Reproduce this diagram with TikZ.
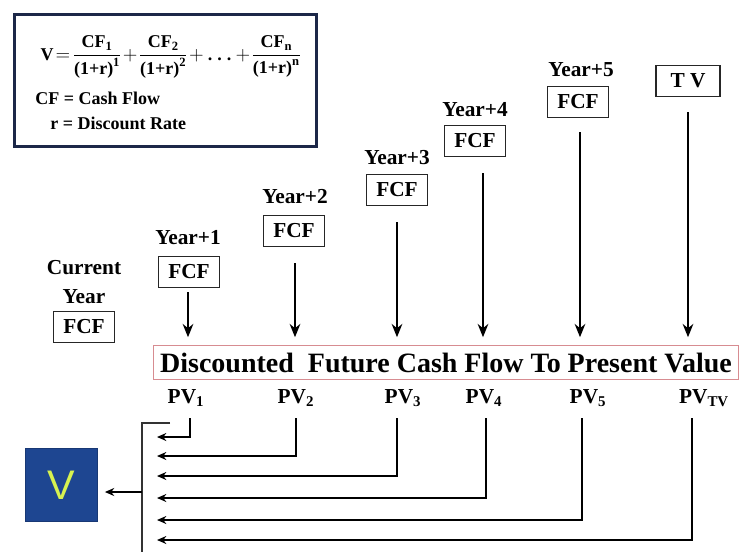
\documentclass[tikz,border=0pt]{standalone}
\usepackage{amsmath}
\usepackage{fontspec}
\setmainfont{Liberation Serif}[BoldFont={Liberation Serif Bold}]
\newfontfamily\vfont{Liberation Sans}
\usetikzlibrary{arrows.meta}
\definecolor{framenavy}{RGB}{28,40,72}
\definecolor{bannerpink}{RGB}{215,140,145}
\definecolor{vblue}{RGB}{30,70,145}
\definecolor{vyellow}{RGB}{215,242,80}
\begin{document}
\begin{tikzpicture}[x=0.75pt,y=-0.75pt,
  lbl/.style={font=\bfseries\fontsize{16}{22}\selectfont, inner sep=0pt, align=center},
  fcfbox/.style={draw=black!85, line width=1.2pt, font=\bfseries\fontsize{16}{18}\selectfont, minimum width=46pt, minimum height=23.5pt, inner sep=0pt},
  downarrow/.style={-{Stealth[length=10pt,width=8pt]}, line width=1.5pt},
  pvlink/.style={-{Stealth[length=7pt,width=6pt]}, line width=1.4pt},
  pvlbl/.style={font=\bfseries\fontsize{16}{18}\selectfont, inner sep=0pt},
  small/.style={font=\bfseries\fontsize{13.5}{15}\selectfont, inner sep=0pt}
]
\useasboundingbox (0,0) rectangle (744,551);

% formula box
\node (fbox) [draw=framenavy, line width=2.5pt, minimum width=226.5pt, minimum height=99pt, anchor=north west, inner sep=0pt] at (13,13) {};
\node (formula) [font=\fontsize{13.5}{15}\selectfont, inner sep=0pt] at (171,57)
 {$\textbf{V}\!=\!\dfrac{\textbf{CF}_{\textbf{1}}}{\textbf{(1+r)}^{\textbf{1}}}\!+\!\dfrac{\textbf{CF}_{\textbf{2}}}{\textbf{(1+r)}^{\textbf{2}}}\!+\textbf{.\;.\;.}+\!\dfrac{\textbf{CF}_{\textbf{n}}}{\textbf{(1+r)}^{\textbf{n}}}$};
\node (cfdef) [small, anchor=west] at (35,98) {CF = Cash Flow};
\node (rdef) [small, anchor=west] at (50,123) {r = Discount Rate};

% year labels and boxes
\node (cy) [lbl] at (84,282) {Current\\Year};
\node (f0) [fcfbox] at (84,327) {FCF};
\node (y1) [lbl] at (188,238) {Year+1};
\node (f1) [fcfbox] at (189,272) {FCF};
\node (y2) [lbl] at (295,197) {Year+2};
\node (f2) [fcfbox] at (294,231) {FCF};
\node (y3) [lbl] at (397,158) {Year+3};
\node (f3) [fcfbox] at (397,190) {FCF};
\node (y4) [lbl] at (475,110) {Year+4};
\node (f4) [fcfbox] at (475,141) {FCF};
\node (y5) [lbl] at (581,70) {Year+5};
\node (f5) [fcfbox] at (578,102) {FCF};
\node (tv) [fcfbox, minimum width=48pt] at (688,81) {T V};

% banner
\node (banner) [draw=bannerpink, line width=0.9pt, minimum width=439pt, minimum height=26pt, inner sep=0pt, font=\bfseries\fontsize{21}{24}\selectfont] at (446,362.5) {Discounted\ \ Future Cash Flow To Present Value};

% arrows into banner
\coordinate (a1) at (188,292);
\coordinate (a2) at (295,263);
\coordinate (a3) at (397,222);
\coordinate (a4) at (483,173);
\coordinate (a5) at (580,132);
\coordinate (a6) at (688,112);
\foreach \i in {1,...,6} {
  \draw[downarrow, shorten >=5.5pt] (a\i) -- (a\i |- banner.north);
}

% PV labels
\node (pv1) [pvlbl] at (186,398) {PV\textsubscript{1}};
\node (pv2) [pvlbl] at (296,398) {PV\textsubscript{2}};
\node (pv3) [pvlbl] at (403,398) {PV\textsubscript{3}};
\node (pv4) [pvlbl] at (484,398) {PV\textsubscript{4}};
\node (pv5) [pvlbl] at (588,398) {PV\textsubscript{5}};
\node (pv6) [pvlbl] at (704,398) {PV\textsubscript{TV}};

% links from PV to bus
\coordinate (d1) at (190,418); \coordinate (e1) at (157,437);
\coordinate (d2) at (296,418); \coordinate (e2) at (157,456);
\coordinate (d3) at (397,418); \coordinate (e3) at (157,476);
\coordinate (d4) at (486,418); \coordinate (e4) at (157,498);
\coordinate (d5) at (582,418); \coordinate (e5) at (157,520);
\coordinate (d6) at (692,418); \coordinate (e6) at (157,540);
\foreach \i in {1,...,6} {
  \draw[pvlink] (d\i) |- (e\i);
}

% bus
\coordinate (bt) at (170,423);
\coordinate (bc) at (142,423);
\coordinate (bm) at (142,492);
\coordinate (bb) at (142,553);
\draw[line width=1.1pt, black!80] (bt) -- (bc) -- (bb);

% V box
\node (vbox) [fill=vblue, draw=vblue!80!black, line width=0.6pt, minimum width=54.5pt, minimum height=55pt, inner sep=0pt, text=vyellow, font=\vfont\fontsize{31}{31}\selectfont] at (61.5,485) {V};
\draw[pvlink, shorten >=5pt] (bm) -- (vbox.east |- bm);
\end{tikzpicture}
\end{document}
